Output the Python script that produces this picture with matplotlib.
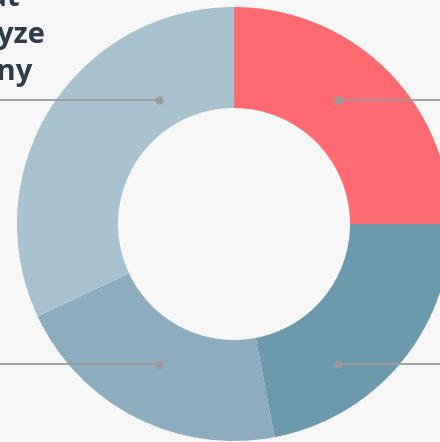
import matplotlib
matplotlib.use("Agg")
import matplotlib.pyplot as plt

# udziały segmentów (od góry, zgodnie z ruchem wskazówek zegara)
segments = ["Red", "Dark blue", "Mid blue", "Light blue"]
shares = [25, 22, 21, 32]
colors = ["#ff6b70", "#6b9aae", "#8badbf", "#a8c3cf"]

# fragment tytułu wystający zza lewej krawędzi
title_lines = ["about that", "we analyze", "company"]

W, H = 440, 442
BG = "#f7f7f7"

fig = plt.figure(figsize=(W / 100, H / 100), dpi=100, facecolor=BG)
ax = fig.add_axes([0, 0, 1, 1])
ax.set_facecolor(BG)

cx, cy = 234, H - 224
R = 217
ax.pie(
    shares,
    colors=colors,
    startangle=90,
    counterclock=False,
    center=(cx, cy),
    radius=R,
    frame=True,
    wedgeprops=dict(width=R - 116, linewidth=0, antialiased=True),
)
ax.set_xlim(0, W)
ax.set_ylim(0, H)
ax.axis("off")

# linie odniesienia: lewa strona do krawędzi, prawa do krawędzi
line_color = "#9a9a9a"
for y in (H - 100, H - 364):
    ax.plot([0, 159], [y, y], color=line_color, lw=1.3, zorder=5)
    ax.plot([159], [y], "o", color=line_color, ms=5, zorder=6)
    ax.plot([338, W], [y, y], color=line_color, lw=1.3, zorder=5)
    ax.plot([338], [y], "o", color=line_color, ms=5, zorder=6)

# tytuł
ends = [20, 45, 33]
baselines = [6, 43, 80]
for txt, xe, yb in zip(title_lines, ends, baselines):
    fig.text(xe / W, 1 - yb / H, txt, ha="right", va="baseline",
             fontsize=21, fontweight="bold", family="Open Sans",
             color="#2e3d49")

fig.savefig("out.png", dpi=100, facecolor=BG)
